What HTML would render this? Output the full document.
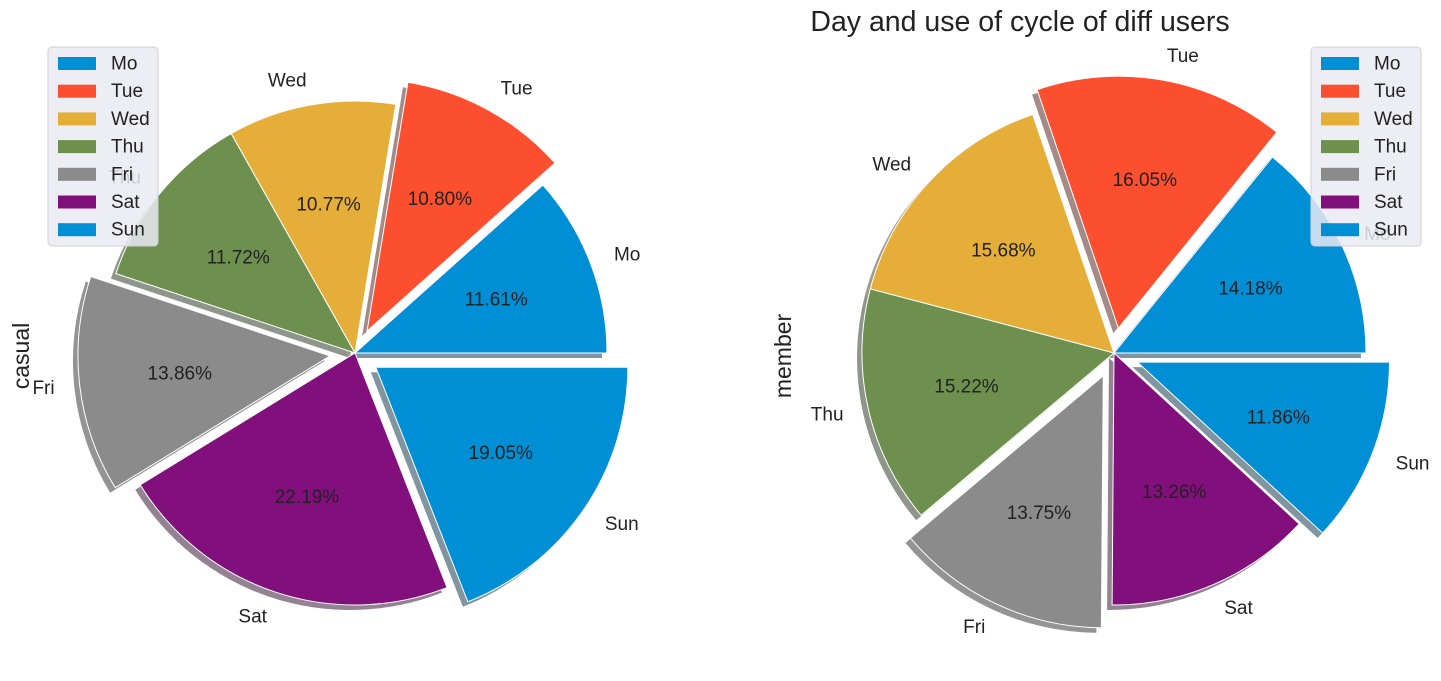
<!DOCTYPE html>
<html><head><meta charset="utf-8"><style>
body{margin:0;background:#fff;}
svg{display:block;font-family:"Liberation Sans","DejaVu Sans",sans-serif;}
</style></head><body>
<svg id="chart" width="1441" height="681" viewBox="0 0 1441 681">
<text x="1020" y="31" font-size="28.5" text-anchor="middle" fill="#222">Day and use of cycle of diff users</text>
<text transform="translate(29,356) rotate(-90)" font-size="23" text-anchor="middle" fill="#222">casual</text>
<text transform="translate(791,356) rotate(-90)" font-size="23" text-anchor="middle" fill="#222">member</text>
</svg>
<script>
const categories = ["Mo","Tue","Wed","Thu","Fri","Sat","Sun"];
const casualValues = [11.61,10.80,10.77,11.72,13.86,22.19,19.05];
const memberValues = [14.18,16.05,15.68,15.22,13.75,13.26,11.86];
const casualExplode = [0,0.1,0,0,0.1,0,0.1];
const memberExplode = [0,0.1,0,0,0.1,0,0.1];
const colors = ["#008fd5","#fc4f30","#e5ae38","#6d904f","#8b8b8b","#810f7c","#008fd5"];
const NS="http://www.w3.org/2000/svg";
const svg=document.getElementById('chart');
function mk(t,a){const e=document.createElementNS(NS,t);for(const k in a)e.setAttribute(k,a[k]);return e;}
function shade(hex){const n=parseInt(hex.slice(1),16);const c=[n>>16&255,n>>8&255,n&255].map(v=>Math.round(255*0.5+0.15*v));return `rgb(${c.join(',')})`;}
function wedgePath(cx,cy,r,a0,a1){
  const x0=cx+r*Math.cos(a0),y0=cy-r*Math.sin(a0),x1=cx+r*Math.cos(a1),y1=cy-r*Math.sin(a1);
  const large=(a1-a0)>Math.PI?1:0;
  return `M${cx},${cy}L${x0},${y0}A${r},${r} 0 ${large} 0 ${x1},${y1}Z`;
}
function drawPie(name,cx,cy,r,values,explode){
  const g=mk('g',{});
  
  
  svg.appendChild(g);
  const total=values.reduce((a,b)=>a+b,0);
  let acc=0; const geo=[];
  values.forEach((v,i)=>{
    const a0=acc/total*2*Math.PI; acc+=v; const a1=acc/total*2*Math.PI;
    const m=(a0+a1)/2; const off=explode[i]*r;
    geo.push({a0,a1,m,x:cx+off*Math.cos(m),y:cy-off*Math.sin(m)});
  });
  geo.forEach((w,i)=>{
    const s=mk('path',{d:wedgePath(w.x-5,w.y+5,r,w.a0,w.a1),fill:shade(colors[i])});
    
    
    g.appendChild(s);
    const p=mk('path',{d:wedgePath(w.x,w.y,r,w.a0,w.a1),fill:colors[i],stroke:'#fff','stroke-width':1});
    
    
    g.appendChild(p);
  });
  geo.forEach((w,i)=>{
    const t=mk('text',{x:w.x+0.6*r*Math.cos(w.m),y:w.y-0.6*r*Math.sin(w.m)+6.5,'font-size':19,'text-anchor':'middle',fill:'#222'});
    t.textContent=values[i].toFixed(2)+'%';
    
    
    g.appendChild(t);
    const c=Math.cos(w.m);
    const l=mk('text',{x:w.x+1.1*r*c,y:w.y-1.1*r*Math.sin(w.m)+6.5,'font-size':19,'text-anchor':c>0?'start':'end',fill:'#222'});
    l.textContent=categories[i];
    
    
    g.appendChild(l);
  });
}
function drawLegend(name,x,y){
  const g=mk('g',{});
  
  
  svg.appendChild(g);
  g.appendChild(mk('rect',{x:x,y:y,width:110,height:199,rx:4,fill:'#eaeaf2','fill-opacity':0.85,stroke:'#d0d0d8'}));
  categories.forEach((c,i)=>{
    const yy=y+16+i*27.7;
    const r=mk('rect',{x:x+10,y:yy-6,width:38,height:13,fill:colors[i]});
    
    
    g.appendChild(r);
    const t=mk('text',{x:x+63,y:yy+6.5,'font-size':19,fill:'#222'});
    t.textContent=c;
    
    
    g.appendChild(t);
  });
}
drawPie('casual-pie',355,353,252,casualValues,casualExplode);
drawPie('member-pie',1114,353,252,memberValues,memberExplode);
drawLegend('casual-legend',48,47);
drawLegend('member-legend',1311,47);
</script>
</body></html>
